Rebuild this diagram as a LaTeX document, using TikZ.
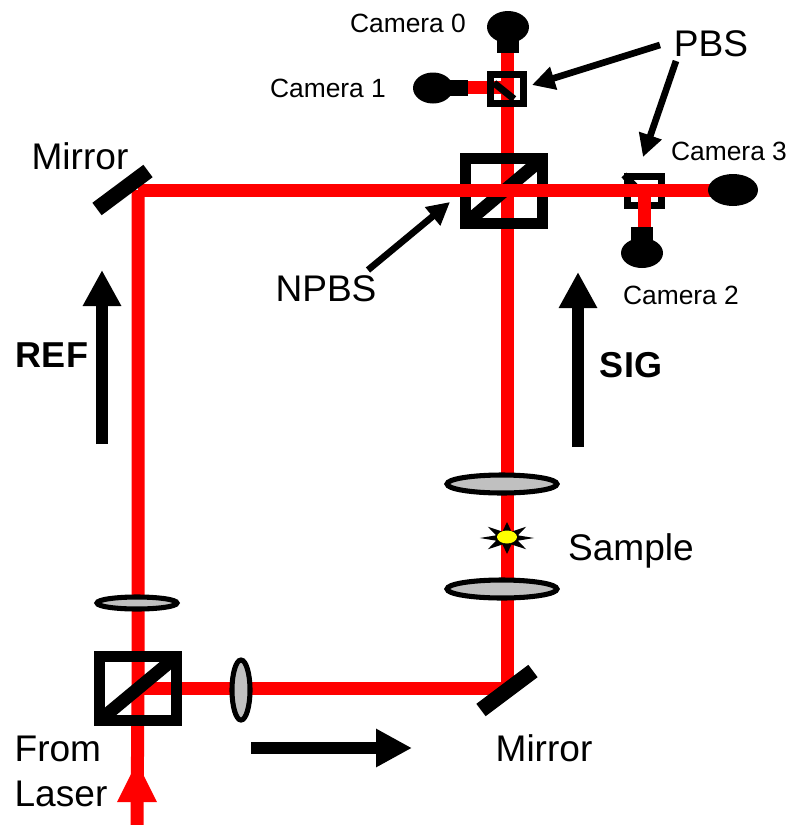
\documentclass[tikz,border=0pt]{standalone}
\usepackage{fontspec}
\setmainfont{Liberation Sans}
\usetikzlibrary{arrows.meta,shapes.geometric}
\definecolor{beamred}{RGB}{255,0,0}
\definecolor{lensgrey}{RGB}{192,192,192}
\definecolor{sampleyellow}{RGB}{255,255,0}

\begin{document}
\begin{tikzpicture}[x=0.75pt,y=-0.75pt,every node/.style={outer sep=0pt,inner sep=0pt,align=left},
    beam/.style={draw=beamred,line width=9.75pt},
    cube/.style 2 args={draw=black,rectangle,line width=#2*0.75pt,minimum width=#1*0.75pt},
    split/.style={line width=#1*0.75pt},
    lens/.style 2 args={ellipse,draw=black,fill=lensgrey,line width=3.8pt,minimum width=#1*0.75pt,minimum height=#2*0.75pt},
    camhead/.style 2 args={ellipse,fill=black,minimum width=#1*0.75pt,minimum height=#2*0.75pt},
    camneck/.style 2 args={rectangle,fill=black,minimum width=#1*0.75pt,minimum height=#2*0.75pt},
    mirror/.style={line width=11.6pt},
    bigarrow/.style={line width=9pt,-{Triangle[length=27pt,width=27pt]}},
    callout/.style={line width=5pt,-{Triangle[length=17pt,width=17pt]}},
    biglabel/.style={font=\fontsize{27.8}{33.75}\selectfont},
    boldlabel/.style={font=\fontsize{27}{33.75}\selectfont\bfseries},
    camlabel/.style={font=\fontsize{19.8}{23}\selectfont}]
  \useasboundingbox (0,0) rectangle (787,825);
  % beam path
  \coordinate (laserin) at (137,825);
  \coordinate (bsin) at (138,688);
  \coordinate (mirrorA) at (138,190);
  \coordinate (mirrorB) at (507,688);
  \coordinate (npbsc) at (507,190);
  \coordinate (pbsAc) at (507,89);
  \coordinate (pbsBc) at (644,190);
  \coordinate (camzero) at (507,45);
  \coordinate (camone) at (460,87);
  \coordinate (camtwo) at (644,235);
  \coordinate (camthree) at (715,190);
  \draw[beam] (laserin)--(bsin)--(mirrorA);
  \draw[beam] (bsin)--(mirrorB)--(npbsc)--(camzero);
  \draw[beam] (pbsAc|-camone)--(camone);
  \fill[beamred] (117,802)--(137,762)--(157,802)--cycle;
  % splitter cubes
  \node[cube={77}{11},minimum height=64*0.75pt] (bsA) at (138,688.5) {};
  \draw[split=13] (bsA.south west)--(bsA.north east);
  \node[cube={77}{11},minimum height=65*0.75pt] (npbs) at (504,191) {};
  \draw[split=13] (npbs.south west)--(npbs.north east);
  \node[cube={33}{7},minimum height=29*0.75pt] (pbsA) at (507,89) {};
  \draw[split=7] (494,83)--(514,99);
  \node[cube={34}{7},minimum height=29*0.75pt] (pbsB) at (644.5,190.5) {};
  \draw[split=7] (624,175)--(648,200);
  % these pass over the cubes
  \draw[beam] (mirrorA)--(camthree);
  \draw[beam] (pbsBc)--(camtwo);
  % lenses
  \node[lens={80}{12}] (lensref) at (137,603) {};
  \node[lens={18}{60}] (lenshor) at (241,690) {};
  \node[lens={110}{18}] (lenssigA) at (502,484) {};
  \node[lens={110}{18}] (lenssigB) at (502,589) {};
  % sample
  \node[star,star points=8,star point ratio=2.3,fill=black,minimum size=32*0.75pt,xscale=1.7,transform shape] (samplestar) at (507,538) {};
  \node[ellipse,fill=sampleyellow,minimum width=20*0.75pt,minimum height=13*0.75pt] (samplespot) at (507,537) {};
  % mirrors
  \draw[mirror] (97,209)--(148,171);
  \draw[mirror] (481,710)--(533,671);
  % cameras
  \node[camhead={42}{32}] (camzerohead) at (508,27) {};
  \node[camneck={22}{16}] (camzeroneck) at (508,45) {};
  \node[camhead={40}{31}] (camonehead) at (433,88) {};
  \node[camneck={18}{16}] (camoneneck) at (459,88) {};
  \node[camhead={42}{30}] (camtwohead) at (642,253) {};
  \node[camneck={22}{20}] (camtwoneck) at (642,237) {};
  \node[camhead={50}{32}] (camthreehead) at (733,190) {};
  % direction arrows
  \coordinate (refstart) at (102,444);
  \coordinate (refend) at (102,270);
  \coordinate (sigstart) at (578,447);
  \coordinate (sigend) at (578,272);
  \coordinate (fwdstart) at (251,748);
  \coordinate (fwdend) at (412,748);
  \draw[bigarrow] (refstart)--(refend);
  \draw[bigarrow] (sigstart)--(sigend);
  \draw[bigarrow] (fwdstart)--(fwdend);
  % labels
  \node[camlabel] (lbzero) at (408,23) {Camera 0};
  \node[camlabel] (lbone) at (328,88) {Camera 1};
  \node[camlabel] (lbtwo) at (681,295) {Camera 2};
  \node[camlabel] (lbthree) at (729,151) {Camera 3};
  \node[biglabel] (lbpbs) at (711,44) {PBS};
  \node[biglabel] (lbmirrorA) at (80,156) {Mirror};
  \node[biglabel] (lbmirrorB) at (544,748) {Mirror};
  \node[biglabel] (lbnpbs) at (326,289) {NPBS};
  \node[biglabel] (lbsample) at (631,551) {Sample};
  \node[biglabel] (lblaser) at (61,771) {From\\Laser};
  \node[boldlabel] (lbref) at (52,355) {REF};
  \node[boldlabel] (lbsig) at (631,365) {SIG};
  % callouts
  \coordinate (pbstipA) at (532,85);
  \coordinate (pbstipB) at (643,157);
  \coordinate (npbstip) at (450,202);
  \draw[callout] (660,45)--(pbstipA);
  \draw[callout] (676,61)--(pbstipB);
  \draw[callout] (368,270)--(npbstip);
\end{tikzpicture}
\end{document}
